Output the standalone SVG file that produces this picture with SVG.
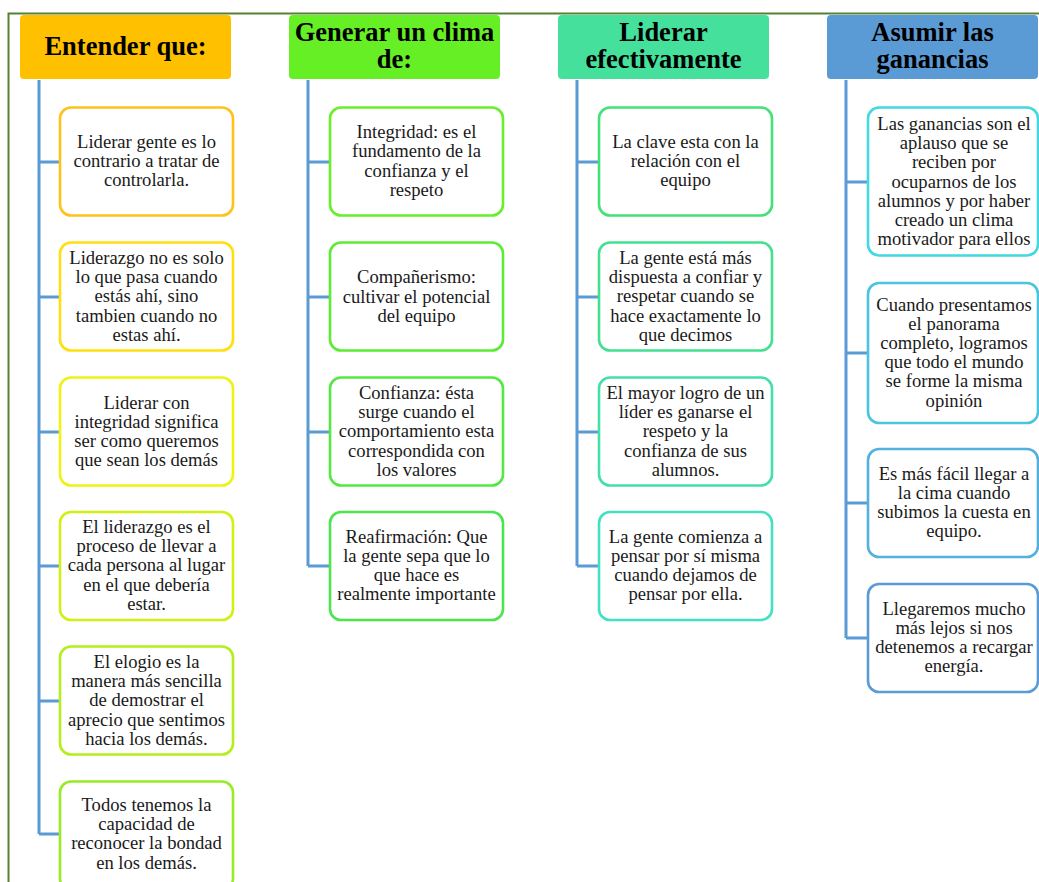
<svg xmlns="http://www.w3.org/2000/svg" width="1039" height="882" viewBox="0 0 1039 882">
<style>
.hd{font-family:"Liberation Serif","Times New Roman",serif;font-weight:bold;font-size:26.5px;fill:#000;text-anchor:middle}
.tx{font-family:"Liberation Serif","Times New Roman",serif;font-size:18.6px;fill:#1a1a1a;text-anchor:middle}
.bx{fill:#fff;stroke-width:2.6}
.cn{stroke:#5B9BD5;stroke-width:3;fill:none}
</style>
<rect width="1039" height="882" fill="#fff"/>
<path d="M8.5 882 V13.5 H1039" fill="none" stroke="#548235" stroke-width="2"/>

<g id="connectors">
<path class="cn" d="M39 80 V834 M39 162 H60 M39 297 H60 M39 432 H60 M39 566 H60 M39 701 H60 M39 834 H60"/>
<path class="cn" d="M308 80 V566 M308 162 H330 M308 297 H330 M308 432 H330 M308 566 H330"/>
<path class="cn" d="M577 80 V566 M577 162 H599 M577 297 H599 M577 432 H599 M577 566 H599"/>
<path class="cn" d="M846 80 V638 M846 182 H868 M846 353 H868 M846 503 H868 M846 638 H868"/>
</g>

<g id="h1"><rect x="20" y="15" width="211" height="64" rx="4" fill="#FFC000"/><text class="hd" x="125.5" y="55">Entender que:</text></g>
<g id="h2"><rect x="289" y="15" width="211" height="64" rx="4" fill="#66EF25"/><text class="hd" x="394.5" y="41">Generar un clima<tspan x="394.5" dy="27">de:</tspan></text></g>
<g id="h3"><rect x="558" y="15" width="211" height="64" rx="4" fill="#44E09C"/><text class="hd" x="663.5" y="41">Liderar<tspan x="663.5" dy="27">efectivamente</tspan></text></g>
<g id="h4"><rect x="827" y="15" width="211" height="64" rx="4" fill="#5B9BD5"/><text class="hd" x="932.5" y="41">Asumir las<tspan x="932.5" dy="27">ganancias</tspan></text></g>

<g id="c1b1"><rect class="bx" x="60" y="107.5" width="173" height="108" rx="11" stroke="#FFC21A"/>
<text class="tx" x="146.5" y="148">Liderar gente es lo</text><text class="tx" x="146.5" y="167.2">contrario a tratar de</text><text class="tx" x="146.5" y="186.4">controlarla.</text></g>
<g id="c1b2"><rect class="bx" x="60" y="242.5" width="173" height="108" rx="11" stroke="#FFDF10"/>
<text class="tx" x="146.5" y="264">Liderazgo no es solo</text><text class="tx" x="146.5" y="283.2">lo que pasa cuando</text><text class="tx" x="146.5" y="302.4">estás ahí, sino</text><text class="tx" x="146.5" y="321.6">tambien cuando no</text><text class="tx" x="146.5" y="340.8">estas ahí.</text></g>
<g id="c1b3"><rect class="bx" x="60" y="377.5" width="173" height="108" rx="11" stroke="#EEF312"/>
<text class="tx" x="146.5" y="408.7">Liderar con</text><text class="tx" x="146.5" y="427.9">integridad significa</text><text class="tx" x="146.5" y="447.1">ser como queremos</text><text class="tx" x="146.5" y="466.3">que sean los demás</text></g>
<g id="c1b4"><rect class="bx" x="60" y="512" width="173" height="108" rx="11" stroke="#D2F014"/>
<text class="tx" x="146.5" y="533">El liderazgo es el</text><text class="tx" x="146.5" y="552.2">proceso de llevar a</text><text class="tx" x="146.5" y="571.4">cada persona al lugar</text><text class="tx" x="146.5" y="590.6">en el que debería</text><text class="tx" x="146.5" y="609.8">estar.</text></g>
<g id="c1b5"><rect class="bx" x="60" y="646.5" width="173" height="108" rx="11" stroke="#B4EE1C"/>
<text class="tx" x="146.5" y="668">El elogio es la</text><text class="tx" x="146.5" y="687.2">manera más sencilla</text><text class="tx" x="146.5" y="706.4">de demostrar el</text><text class="tx" x="146.5" y="725.6">aprecio que sentimos</text><text class="tx" x="146.5" y="744.8">hacia los demás.</text></g>
<g id="c1b6"><rect class="bx" x="60" y="781.5" width="173" height="108" rx="11" stroke="#98EC26"/>
<text class="tx" x="146.5" y="811">Todos tenemos la</text><text class="tx" x="146.5" y="830.2">capacidad de</text><text class="tx" x="146.5" y="849.4">reconocer la bondad</text><text class="tx" x="146.5" y="868.6">en los demás.</text></g>

<g id="c2b1"><rect class="bx" x="330" y="107.5" width="173" height="108" rx="11" stroke="#68EE2A"/>
<text class="tx" x="416.5" y="138.2">Integridad: es el</text><text class="tx" x="416.5" y="157.4">fundamento de la</text><text class="tx" x="416.5" y="176.6">confianza y el</text><text class="tx" x="416.5" y="195.8">respeto</text></g>
<g id="c2b2"><rect class="bx" x="330" y="242.5" width="173" height="108" rx="11" stroke="#5EEB36"/>
<text class="tx" x="416.5" y="283.3">Compañerismo:</text><text class="tx" x="416.5" y="302.5">cultivar el potencial</text><text class="tx" x="416.5" y="321.7">del equipo</text></g>
<g id="c2b3"><rect class="bx" x="330" y="377.5" width="173" height="108" rx="11" stroke="#54E842"/>
<text class="tx" x="416.5" y="399">Confianza: ésta</text><text class="tx" x="416.5" y="418.2">surge cuando el</text><text class="tx" x="416.5" y="437.4">comportamiento esta</text><text class="tx" x="416.5" y="456.6">correspondida con</text><text class="tx" x="416.5" y="475.8">los valores</text></g>
<g id="c2b4"><rect class="bx" x="330" y="512" width="173" height="108" rx="11" stroke="#4CE54E"/>
<text class="tx" x="416.5" y="542.7">Reafirmación: Que</text><text class="tx" x="416.5" y="561.9">la gente sepa que lo</text><text class="tx" x="416.5" y="581.1">que hace es</text><text class="tx" x="416.5" y="600.3">realmente importante</text></g>

<g id="c3b1"><rect class="bx" x="599" y="107.5" width="173" height="108" rx="11" stroke="#44E078"/>
<text class="tx" x="685.5" y="148">La clave esta con la</text><text class="tx" x="685.5" y="167.2">relación con el</text><text class="tx" x="685.5" y="186.4">equipo</text></g>
<g id="c3b2"><rect class="bx" x="599" y="242.5" width="173" height="108" rx="11" stroke="#44E090"/>
<text class="tx" x="685.5" y="264">La gente está más</text><text class="tx" x="685.5" y="283.2">dispuesta a confiar y</text><text class="tx" x="685.5" y="302.4">respetar cuando se</text><text class="tx" x="685.5" y="321.6">hace exactamente lo</text><text class="tx" x="685.5" y="340.8">que decimos</text></g>
<g id="c3b3"><rect class="bx" x="599" y="377.5" width="173" height="108" rx="11" stroke="#44E0A8"/>
<text class="tx" x="685.5" y="399">El mayor logro de un</text><text class="tx" x="685.5" y="418.2">líder es ganarse el</text><text class="tx" x="685.5" y="437.4">respeto y la</text><text class="tx" x="685.5" y="456.6">confianza de sus</text><text class="tx" x="685.5" y="475.8">alumnos.</text></g>
<g id="c3b4"><rect class="bx" x="599" y="512" width="173" height="108" rx="11" stroke="#44E0C2"/>
<text class="tx" x="685.5" y="542.7">La gente comienza a</text><text class="tx" x="685.5" y="561.9">pensar por sí misma</text><text class="tx" x="685.5" y="581.1">cuando dejamos de</text><text class="tx" x="685.5" y="600.3">pensar por ella.</text></g>

<g id="c4b1"><rect class="bx" x="868" y="107.5" width="170" height="148" rx="11" stroke="#44D8E0"/>
<text class="tx" x="954" y="129.9">Las ganancias son el</text><text class="tx" x="954" y="149.1">aplauso que se</text><text class="tx" x="954" y="168.3">reciben por</text><text class="tx" x="954" y="187.5">ocuparnos de los</text><text class="tx" x="954" y="206.7">alumnos y por haber</text><text class="tx" x="954" y="225.9">creado un clima</text><text class="tx" x="954" y="245.1">motivador para ellos</text></g>
<g id="c4b2"><rect class="bx" x="868" y="283" width="170" height="140" rx="11" stroke="#4CC4E0"/>
<text class="tx" x="954" y="310.5">Cuando presentamos</text><text class="tx" x="954" y="329.7">el panorama</text><text class="tx" x="954" y="348.9">completo, logramos</text><text class="tx" x="954" y="368.1">que todo el mundo</text><text class="tx" x="954" y="387.3">se forme la misma</text><text class="tx" x="954" y="406.5">opinión</text></g>
<g id="c4b3"><rect class="bx" x="868" y="449" width="170" height="108" rx="11" stroke="#54B0DC"/>
<text class="tx" x="954" y="479.7">Es más fácil llegar a</text><text class="tx" x="954" y="498.9">la cima cuando</text><text class="tx" x="954" y="518.1">subimos la cuesta en</text><text class="tx" x="954" y="537.3">equipo.</text></g>
<g id="c4b4"><rect class="bx" x="868" y="584" width="170" height="108" rx="11" stroke="#5B9BD5"/>
<text class="tx" x="954" y="614.7">Llegaremos mucho</text><text class="tx" x="954" y="633.9">más lejos si nos</text><text class="tx" x="954" y="653.1">detenemos a recargar</text><text class="tx" x="954" y="672.3">energía.</text></g>
</svg>
